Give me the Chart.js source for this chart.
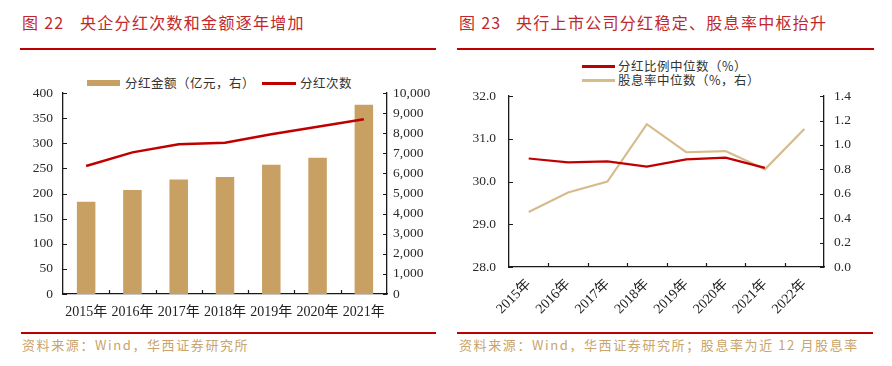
<!DOCTYPE html>
<html>
<head>
<meta charset="utf-8">
<script src="https://cdn.jsdelivr.net/npm/chart.js@4/dist/chart.umd.min.js"></script>
<style>
  body { margin: 0; width: 892px; height: 366px; background: #fff; position: relative; overflow: hidden; font-family: "Noto Sans CJK SC", sans-serif; }
  .abs { position: absolute; white-space: nowrap; }
  .title { color: #c0282d; font-size: 16px; line-height: 20px; letter-spacing: 1.3px; }
  .rule { height: 2px; background: #c00000; }
  .src { color: #c9a46c; font-size: 13px; line-height: 16px; letter-spacing: 1.6px; }
  .lg { font-size: 12.5px; line-height: 16px; color: #333; letter-spacing: 0.5px; }
  canvas { position: absolute; }
</style>
</head>
<body>

<!-- 图22 -->
<div class="abs title" style="left:22px;top:12px;">图 22</div>
<div class="abs title" style="left:80px;top:12px;">央企分红次数和金额逐年增加</div>
<div class="abs rule" style="left:20px;top:48px;width:416px;"></div>
<div class="abs" style="left:87px;top:80px;width:33px;height:6px;background:#c8a064;"></div>
<div class="abs lg" style="left:125px;top:75px;">分红金额（亿元，右）</div>
<div class="abs" style="left:262px;top:82px;width:34px;height:2.5px;background:#c00000;"></div>
<div class="abs lg" style="left:300px;top:75px;">分红次数</div>
<canvas id="c1" width="446" height="250" style="left:0;top:75px;"></canvas>
<div class="abs rule" style="left:21px;top:332px;width:415px;"></div>
<div class="abs src" style="left:22px;top:337px;">资料来源：Wind，华西证券研究所</div>

<!-- 图23 -->
<div class="abs title" style="left:459px;top:12px;">图 23</div>
<div class="abs title" style="left:516px;top:12px;">央行上市公司分红稳定、股息率中枢抬升</div>
<div class="abs rule" style="left:457px;top:48px;width:417px;"></div>
<div class="abs" style="left:582px;top:65px;width:33px;height:2.5px;background:#c00000;"></div>
<div class="abs lg" style="left:618px;top:58px;">分红比例中位数（%）</div>
<div class="abs" style="left:582px;top:79px;width:33px;height:2.5px;background:#d6bc8c;"></div>
<div class="abs lg" style="left:618px;top:72px;">股息率中位数（%，右）</div>
<canvas id="c2" width="446" height="255" style="left:446px;top:75px;"></canvas>
<div class="abs rule" style="left:457px;top:332px;width:416px;"></div>
<div class="abs src" style="left:459px;top:337px;">资料来源：Wind，华西证券研究所；股息率为近 12 月股息率</div>

<script>
// 图22 data
const years1 = ['2015年', '2016年', '2017年', '2018年', '2019年', '2020年', '2021年'];
const dividendAmount = [4590, 5180, 5700, 5830, 6430, 6780, 9420];   // 亿元, right axis
const dividendCount = [255, 282, 298, 301, 318, 333, 348];           // 次, left axis

// 图23 data
const years2 = ['2015年', '2016年', '2017年', '2018年', '2019年', '2020年', '2021年', '2022年'];
const payoutMedian = [30.54, 30.45, 30.47, 30.35, 30.52, 30.56, 30.32]; // %, left
const yieldMedian = [0.45, 0.61, 0.70, 1.17, 0.94, 0.95, 0.80, 1.13];  // %, right

const tickFont = { family: "'Liberation Serif', 'Times New Roman', 'Noto Sans CJK SC', serif", size: 13.5 };
const axisColor = '#1a1a1a';

// tick marks pointing into the plot
const inwardTicks = {
  id: 'inwardTicks',
  afterDatasetsDraw(chart) {
    const ctx = chart.ctx, area = chart.chartArea;
    ctx.save();
    ctx.strokeStyle = axisColor;
    ctx.lineWidth = 1.2;
    Object.values(chart.scales).forEach(s => {
      ctx.beginPath();
      if (s.axis === 'y') {
        const left = s.position === 'left';
        const x = left ? area.left : area.right;
        s.ticks.forEach(t => {
          const y = Math.round(s.getPixelForValue(t.value)) + 0.5;
          ctx.moveTo(x, y);
          ctx.lineTo(left ? x + 4 : x - 4, y);
        });
      } else {
        for (let i = 0; i < s.ticks.length - 1; i++) {
          const x = Math.round((s.getPixelForValue(i) + s.getPixelForValue(i + 1)) / 2) + 0.5;
          ctx.moveTo(x, area.bottom);
          ctx.lineTo(x, area.bottom - 4);
        }
      }
      ctx.stroke();
    });
    ctx.restore();
  }
};

function yAxis(pos, min, max, step, width, pad, fmt) {
  return {
    position: pos, min: min, max: max,
    grid: { display: false, drawTicks: false },
    border: { display: true, color: axisColor, width: 1.3 },
    ticks: { stepSize: step, padding: pad, color: '#2a2a2a', font: tickFont, callback: fmt },
    afterFit: s => { s.width = width; }
  };
}

new Chart(document.getElementById('c1'), {
  data: {
    labels: years1,
    datasets: [
      { type: 'line', label: '分红次数', data: dividendCount, yAxisID: 'yL',
        borderColor: '#c00000', borderWidth: 2.5, pointRadius: 0, tension: 0, order: 0 },
      { type: 'bar', label: '分红金额（亿元，右）', data: dividendAmount, yAxisID: 'yR',
        backgroundColor: '#c8a064', barPercentage: 0.4, categoryPercentage: 1, order: 1 }
    ]
  },
  options: {
    responsive: false, animation: false,
    layout: { padding: { top: 10, left: 0, right: 0, bottom: 0 } },
    plugins: { legend: { display: false }, tooltip: { enabled: false } },
    scales: {
      x: {
        grid: { display: false, drawTicks: false },
        border: { display: true, color: axisColor, width: 1.3 },
        ticks: { padding: 10, color: '#222', font: { ...tickFont, size: 14 }, maxRotation: 0, autoSkip: false },
        afterFit: s => { s.height = 31; }
      },
      yL: yAxis('left', 0, 400, 50, 63, 10, v => v),
      yR: yAxis('right', 0, 10000, 1000, 59, 6, v => v.toLocaleString('en-US'))
    }
  },
  plugins: [inwardTicks]
});

new Chart(document.getElementById('c2'), {
  type: 'line',
  data: {
    labels: years2,
    datasets: [
      { label: '分红比例中位数（%）', data: payoutMedian, yAxisID: 'yL',
        borderColor: '#c00000', borderWidth: 2.2, pointRadius: 0, tension: 0 },
      { label: '股息率中位数（%，右）', data: yieldMedian, yAxisID: 'yR',
        borderColor: '#d6bc8c', borderWidth: 2.2, pointRadius: 0, tension: 0 }
    ]
  },
  options: {
    responsive: false, animation: false,
    layout: { padding: { top: 16, left: 0, right: 0, bottom: 0 } },
    plugins: { legend: { display: false }, tooltip: { enabled: false } },
    scales: {
      x: {
        offset: true,
        grid: { display: false, drawTicks: false, offset: true },
        border: { display: true, color: axisColor, width: 1.3 },
        ticks: { padding: 9, color: '#222', font: { ...tickFont, size: 14 }, minRotation: 45, maxRotation: 45, autoSkip: false },
        afterFit: s => { s.height = 63; }
      },
      yL: yAxis('left', 28, 32, 1, 63, 13, v => v.toFixed(1)),
      yR: yAxis('right', 0, 1.4, 0.2, 68, 10, v => v.toFixed(1))
    }
  },
  plugins: [inwardTicks]
});
</script>
</body>
</html>
